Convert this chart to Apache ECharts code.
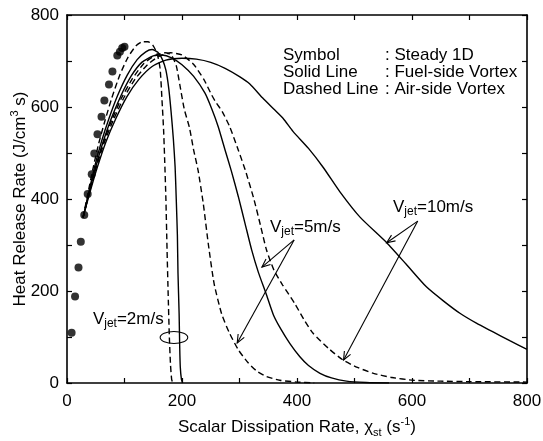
<!DOCTYPE html>
<html>
<head>
<meta charset="utf-8">
<script src="https://cdn.jsdelivr.net/npm/echarts@6/dist/echarts.min.js"></script>
<style>
  html, body { margin: 0; padding: 0; background: #fff; }
  #chart { width: 543px; height: 441px; }
</style>
</head>
<body>
<div id="chart"></div>
<script>
// Steady 1D flamelet results (symbols): scalar dissipation rate vs heat release rate
const steadyChi = [8, 14, 20, 24, 30, 36, 43, 47.5, 53, 60, 65, 73, 79, 87.5, 92, 96, 100];
const steadyHRR = [109, 188, 251, 307, 365, 411, 454, 499, 541, 579, 614, 649, 677, 712, 720, 728, 731];

// Fuel-side vortex (solid lines), [chi, HRR]
const fuelVjet2 = [[28,360],[38,415],[48,470],[60,525],[73,575],[88,625],[105,670],[122,703],[137,720],[148,725],[158,719],[166,703],[172,680],[177,640],[181,590],[185,530],[188,470],[190,400],[192,320],[193,240],[195,150],[196,80],[197,35],[199,8],[201,0]];
const fuelVjet5 = [[28,360],[38,412],[50,470],[63,525],[77,575],[94,625],[112,668],[130,697],[150,711],[165,713],[182,707],[200,692],[220,667],[240,630],[252,595],[263,557],[275,506],[286,460],[298,405],[310,345],[321,290],[333,240],[346,195],[359,148],[372,117],[388,85],[405,57],[420,38],[440,21],[460,11],[486,4],[520,1],[560,0]];
const fuelVjet10 = [[28,360],[40,415],[53,470],[68,525],[85,575],[104,622],[125,660],[148,688],[172,702],[200,706],[225,704],[250,697],[275,684],[300,666],[318,650],[340,620],[360,595],[376,575],[393,547],[420,510],[446,468],[475,415],[510,360],[556,305],[590,258],[625,209],[655,178],[684,151],[712,130],[741,111],[770,92],[800,73]];

// Air-side vortex (dashed lines), [chi, HRR]
const airVjet2 = [[28,360],[36,410],[45,465],[55,520],[66,570],[78,620],[92,670],[106,708],[120,733],[132,742],[141,742],[150,733],[157,715],[162,682],[165,620],[168,550],[170,480],[172,400],[174,290],[176,190],[178,100],[180,40],[182,8],[184,0]];
const airVjet5 = [[28,360],[38,412],[50,468],[63,522],[78,572],[95,620],[114,662],[134,695],[155,713],[172,718],[182,712],[190,690],[196,650],[204,595],[213,555],[220,508],[228,462],[237,390],[246,300],[256,215],[269,150],[282,110],[298,72],[315,44],[330,26],[347,14],[370,6],[400,2],[430,0]];
const airVjet10 = [[28,360],[38,410],[50,465],[64,520],[80,570],[98,618],[118,660],[140,692],[160,710],[180,718],[200,713],[220,693],[238,660],[250,630],[258,612],[270,590],[283,557],[298,506],[310,463],[325,400],[337,340],[347,289],[360,245],[375,213],[396,173],[412,138],[428,108],[455,75],[480,50],[505,34],[533,21],[565,12],[602,6],[650,4],[700,3],[800,2]];

// Annotation arrows: [fromChi, fromHRR, toChi, toHRR]
const vjetArrows = [
  [395, 311, 339, 252],
  [395, 311, 296, 87],
  [610, 352, 556, 305],
  [610, 352, 481, 50]
];
// Annotation labels: [chi, HRR, jet speed text]
const vjetLabels = [
  [45, 139, '2m/s'],
  [353, 339, '5m/s'],
  [567, 383, '10m/s']
];
// Ellipse marking the Vjet = 2 m/s pair: [centerChi, centerHRR, halfWidthChi, halfHeightHRR]
const vjet2Ring = [[186, 99, 24, 13]];

// Legend block
const legendKeys = ['Symbol', 'Solid Line', 'Dashed Line'];
const legendVals = [': Steady 1D', ': Fuel-side Vortex', ': Air-side Vortex'];

const xTicks = { min: 0, max: 800, step: 100, labelStep: 200 };
const yTicks = { min: 0, max: 800, step: 100, labelStep: 200 };

const FONT = '"Liberation Sans", Arial, Helvetica, sans-serif';
const INK = '#000';

const chart = echarts.init(document.getElementById('chart'), null, { renderer: 'canvas' });

function frameAxis(pos, t, showLabels, margin) {
  return {
    type: 'value',
    position: pos,
    min: t.min, max: t.max, interval: t.step,
    axisLine: { show: true, onZero: false, lineStyle: { color: INK, width: 1.6 } },
    axisTick: { show: true, inside: true, length: 5, lineStyle: { color: INK, width: 1.2 } },
    splitLine: { show: false },
    axisLabel: {
      show: showLabels,
      color: INK,
      fontFamily: FONT,
      fontSize: 17,
      margin: margin,
      formatter: v => (v % t.labelStep === 0 ? String(v) : '')
    }
  };
}

const xMain = frameAxis('bottom', xTicks, true, 10);
xMain.name = 'Scalar Dissipation Rate, \u03c7{sub|st} (s{sup|-1})';
xMain.nameLocation = 'middle';
xMain.nameGap = 33;
xMain.nameMoveOverlap = false;
xMain.nameTextStyle = {
  color: INK, fontFamily: FONT, fontSize: 17, lineHeight: 22,
  rich: {
    sub: { fontFamily: FONT, fontSize: 11, lineHeight: 10, verticalAlign: 'bottom', color: INK },
    sup: { fontFamily: FONT, fontSize: 11, lineHeight: 10, verticalAlign: 'top', color: INK }
  }
};

const yMain = frameAxis('left', yTicks, true, 8);
yMain.name = 'Heat Release Rate (J/cm{sup|3} s)';
yMain.nameLocation = 'middle';
yMain.nameGap = 36;
yMain.nameRotate = 90;
yMain.nameMoveOverlap = false;
yMain.nameTextStyle = {
  color: INK, fontFamily: FONT, fontSize: 17, lineHeight: 22,
  rich: {
    sup: { fontFamily: FONT, fontSize: 11, lineHeight: 10, verticalAlign: 'top', color: INK }
  }
};

function lineSeries(name, data, dashed) {
  return {
    name, type: 'line', data,
    showSymbol: false, symbol: 'none',
    smooth: 0.2,
    lineStyle: { color: INK, width: 1.4, type: dashed ? [6, 3.5] : 'solid' },
    z: 3, silent: true, animation: false
  };
}

function renderArrow(params, api) {
  const a = api.coord([api.value(0), api.value(1)]);
  const b = api.coord([api.value(2), api.value(3)]);
  const ang = Math.atan2(b[1] - a[1], b[0] - a[0]);
  const L = 9, w = 0.4;
  const h1 = [b[0] - L * Math.cos(ang - w), b[1] - L * Math.sin(ang - w)];
  const h2 = [b[0] - L * Math.cos(ang + w), b[1] - L * Math.sin(ang + w)];
  return {
    type: 'group',
    children: [
      { type: 'line', shape: { x1: a[0], y1: a[1], x2: b[0], y2: b[1] }, style: { stroke: INK, lineWidth: 1.1 } },
      { type: 'polyline', shape: { points: [h1, b, h2] }, style: { stroke: INK, fill: null, lineWidth: 1.1 } }
    ]
  };
}

function renderLabel(params, api) {
  const p = api.coord([api.value(0), api.value(1)]);
  return {
    type: 'text', x: p[0], y: p[1],
    style: {
      text: 'V{sub|jet}=' + vjetLabels[params.dataIndex][2],
      fill: INK, font: '17px ' + FONT,
      verticalAlign: 'middle', align: 'left',
      lineHeight: 22,
      rich: { sub: { font: '12px ' + FONT, fill: INK, lineHeight: 10, verticalAlign: 'bottom' } }
    }
  };
}

function renderRing(params, api) {
  const c = api.coord([api.value(0), api.value(1)]);
  const s = api.size([api.value(2), api.value(3)]);
  return {
    type: 'ellipse',
    shape: { cx: c[0], cy: c[1], rx: s[0], ry: s[1] },
    style: { stroke: INK, fill: null, lineWidth: 1.1 }
  };
}

const legendGraphics = [];
legendKeys.forEach((k, i) => {
  legendGraphics.push({ type: 'text', x: 283, y: 55 + i * 17, style: { text: k, fill: INK, font: '17px ' + FONT, verticalAlign: 'middle' } });
  legendGraphics.push({ type: 'text', x: 385, y: 55 + i * 17, style: { text: legendVals[i], fill: INK, font: '17px ' + FONT, verticalAlign: 'middle' } });
});

chart.setOption({
  animation: false,
  backgroundColor: '#fff',
  grid: { left: 67, right: 16, top: 15, bottom: 58, containLabel: false, outerBoundsMode: 'none' },
  xAxis: [xMain, frameAxis('top', xTicks, false, 8)],
  yAxis: [yMain, frameAxis('right', yTicks, false, 8)],
  graphic: legendGraphics,
  series: [
    {
      name: 'Steady 1D', type: 'scatter',
      data: steadyChi.map((x, i) => [x, steadyHRR[i]]),
      symbol: 'circle', symbolSize: 8,
      itemStyle: { color: INK }, z: 4, silent: true
    },
    lineSeries('Fuel-side Vjet=2', fuelVjet2, false),
    lineSeries('Fuel-side Vjet=5', fuelVjet5, false),
    lineSeries('Fuel-side Vjet=10', fuelVjet10, false),
    lineSeries('Air-side Vjet=2', airVjet2, true),
    lineSeries('Air-side Vjet=5', airVjet5, true),
    lineSeries('Air-side Vjet=10', airVjet10, true),
    {
      name: 'arrows', type: 'custom', renderItem: renderArrow,
      dimensions: ['x1', 'y1', 'x2', 'y2'], encode: { x: [0, 2], y: [1, 3] },
      data: vjetArrows, z: 5, silent: true
    },
    {
      name: 'labels', type: 'custom', renderItem: renderLabel,
      encode: { x: 0, y: 1 },
      data: vjetLabels, z: 6, silent: true
    },
    {
      name: 'ring', type: 'custom', renderItem: renderRing,
      encode: { x: 0, y: 1 },
      data: vjet2Ring, z: 5, silent: true
    }
  ]
});
</script>
</body>
</html>
